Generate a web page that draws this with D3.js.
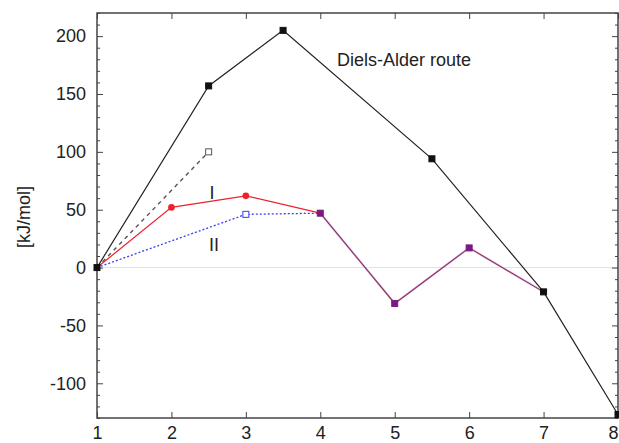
<!DOCTYPE html>
<html lang="en">
<head>
    <meta charset="UTF-8">
    <title>Diels-Alder route energy profile</title>
    <script src="https://d3js.org/d3.v7.min.js"></script>
    <style>
        body { margin: 0; background: #fff; }
        svg { display: block; font-family: "Liberation Sans", Arial, sans-serif; }
    </style>
</head>
<body>
    <script>
        const w = 619;
        const h = 443;
        const margin = {top: 13, right: 1, bottom: 25, left: 97};

        // Diels-Alder route (black)
        const daX = [1, 2.5, 3.5, 5.5, 7, 8];
        const daY = [0, 157, 205, 94, -21, -127];
        // dashed grey branch
        const dashX = [1, 2.5];
        const dashY = [0, 100];
        // route I (red)
        const routeIX = [1, 2, 3, 4];
        const routeIY = [0, 52, 62, 47];
        // route II (blue, dotted)
        const routeIIX = [1, 3, 4];
        const routeIIY = [0, 46, 47];
        // common part of I and II (purple)
        const commonX = [4, 5, 6, 7];
        const commonY = [47, -31, 17, -21];

        const xTicks = [1, 2, 3, 4, 5, 6, 7, 8];
        const yTicks = [-100, -50, 0, 50, 100, 150, 200];

        const svg = d3.select("body")
            .append("svg")
            .attr("width", w)
            .attr("height", h);

        const x = d3.scaleLinear().domain([1, 8]).range([margin.left, w - margin.right]);
        const y = d3.scaleLinear().domain([-130, 220]).range([h - margin.bottom, margin.top]);

        const zip = (xs, ys) => xs.map((d, i) => [d, ys[i]]);
        const line = d3.line().x(d => x(d[0])).y(d => y(d[1]));

        // zero line
        svg.append("line")
            .attr("x1", x(1)).attr("x2", x(8))
            .attr("y1", y(0)).attr("y2", y(0))
            .attr("stroke", "#e2e2e2")
            .attr("stroke-width", 1);

        // axes, gnuplot style: ticks pointing inward on all four sides
        const minor = d3.range(-130, 221, 10).filter(v => v % 50 !== 0);
        const axisStyle = g => {
            g.select(".domain").remove();
            g.selectAll("line").attr("stroke", "#444");
        };
        svg.append("g")
            .attr("transform", `translate(${margin.left},0)`)
            .call(d3.axisRight(y).tickValues(minor).tickSize(3).tickFormat(""))
            .call(axisStyle);
        svg.append("g")
            .attr("transform", `translate(${w - margin.right},0)`)
            .call(d3.axisLeft(y).tickValues(minor).tickSize(3).tickFormat(""))
            .call(axisStyle);
        svg.append("g")
            .attr("transform", `translate(${w - margin.right},0)`)
            .call(d3.axisLeft(y).tickValues(yTicks).tickSize(6).tickFormat(""))
            .call(axisStyle);
        svg.append("g")
            .attr("transform", `translate(0,${margin.top})`)
            .call(d3.axisBottom(x).tickValues(xTicks).tickSize(6).tickFormat(""))
            .call(axisStyle);

        const yAxis = svg.append("g")
            .attr("transform", `translate(${margin.left},0)`)
            .call(d3.axisRight(y).tickValues(yTicks).tickSize(6).tickFormat(d => String(d)))
            .call(axisStyle);
        yAxis.selectAll("text")
            .attr("x", -11)
            .attr("text-anchor", "end")
            .attr("font-size", 18)
            .attr("fill", "#222")
            .attr("font-family", "Liberation Sans, Arial, sans-serif");

        const xAxis = svg.append("g")
            .attr("transform", `translate(0,${h - margin.bottom})`)
            .call(d3.axisTop(x).tickValues(xTicks).tickSize(6).tickFormat(d => String(d)))
            .call(axisStyle);
        xAxis.selectAll("text")
            .attr("y", 21)
            .attr("dy", 0)
            .attr("font-size", 18)
            .attr("fill", "#222")
            .attr("font-family", "Liberation Sans, Arial, sans-serif");
        // the last label sits on the right edge: keep it inside the picture
        xAxis.selectAll("text").filter(d => d === 8).attr("text-anchor", "end").attr("x", 0);

        // frame
        svg.append("rect")
            .attr("x", margin.left).attr("y", margin.top)
            .attr("width", w - margin.left - margin.right)
            .attr("height", h - margin.top - margin.bottom)
            .attr("fill", "none")
            .attr("stroke", "#444")
            .attr("stroke-width", 1.5);

        // lines
        svg.append("path").datum(zip(dashX, dashY))
            .attr("d", line).attr("fill", "none")
            .attr("stroke", "#555").attr("stroke-width", 1.4)
            .attr("stroke-dasharray", "4,4");
        svg.append("path").datum(zip(routeIIX, routeIIY))
            .attr("d", line).attr("fill", "none")
            .attr("stroke", "#3a3ef0").attr("stroke-width", 1.3)
            .attr("stroke-dasharray", "2,2");
        svg.append("path").datum(zip(routeIX, routeIY))
            .attr("d", line).attr("fill", "none")
            .attr("stroke", "#f0202a").attr("stroke-width", 1.2);
        svg.append("path").datum(zip(commonX, commonY))
            .attr("d", line).attr("fill", "none")
            .attr("stroke", "#f6bfdc").attr("stroke-width", 2.2);
        svg.append("path").datum(zip(commonX, commonY))
            .attr("d", line).attr("fill", "none")
            .attr("stroke", "#76366e").attr("stroke-width", 1.1);
        svg.append("path").datum(zip(daX, daY))
            .attr("d", line).attr("fill", "none")
            .attr("stroke", "#222").attr("stroke-width", 1.2);

        // markers
        const squares = (pts, fill, stroke, size) => {
            svg.append("g").selectAll("rect")
                .data(pts)
                .enter()
                .append("rect")
                .attr("x", d => x(d[0]) - size / 2)
                .attr("y", d => y(d[1]) - size / 2)
                .attr("width", size)
                .attr("height", size)
                .attr("fill", fill)
                .attr("stroke", stroke)
                .attr("stroke-width", 1);
        };
        squares(zip(dashX, dashY).slice(1), "#fff", "#555", 6);
        squares(zip(routeIIX, routeIIY).slice(1, 2), "#fff", "#3a3ef0", 6);
        svg.append("g").selectAll("circle")
            .data(zip(routeIX, routeIY).slice(1, 3))
            .enter()
            .append("circle")
            .attr("cx", d => x(d[0]))
            .attr("cy", d => y(d[1]))
            .attr("r", 3.3)
            .attr("fill", "#f0202a");
        squares(zip(commonX, commonY).slice(0, 3), "#7a1a80", "#7a1a80", 6);
        squares(zip(daX, daY), "#111", "#111", 6);

        // labels
        svg.append("text")
            .attr("x", 337).attr("y", 66)
            .attr("font-size", 18).attr("fill", "#222")
            .text("Diels-Alder route");
        svg.append("text")
            .attr("x", 212).attr("y", 199)
            .attr("font-size", 18).attr("fill", "#222")
            .attr("text-anchor", "middle")
            .text("I");
        svg.append("text")
            .attr("x", 214).attr("y", 251)
            .attr("font-size", 18).attr("fill", "#222")
            .attr("text-anchor", "middle")
            .text("II");
        svg.append("text")
            .attr("transform", "translate(30,217) rotate(-90)")
            .attr("font-size", 18).attr("fill", "#222")
            .attr("text-anchor", "middle")
            .text("[kJ/mol]");
    </script>
</body>
</html>
